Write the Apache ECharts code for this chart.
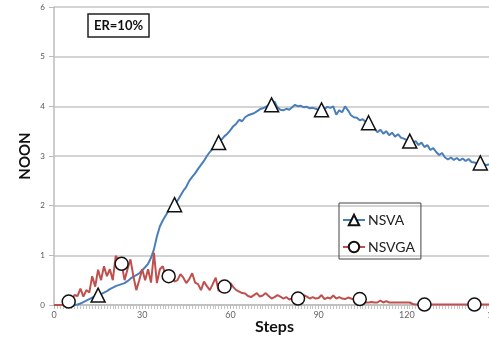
<!DOCTYPE html>
<html>
<head>
<meta charset="utf-8">
<script src="https://cdn.jsdelivr.net/npm/echarts@6/dist/echarts.min.js"></script>
<style>
  html, body { margin: 0; padding: 0; background: #fff; }
  #main { width: 489px; height: 339px; }
</style>
</head>
<body>
<div id="main"></div>
<script>
// values per step 0..150
var nsva = [
  0, 0, 0, 0, 0, 0, 0, 0, 0.01, 0.03,
  0.06, 0.09, 0.12, 0.15, 0.17, 0.2, 0.22, 0.25, 0.28, 0.32,
  0.35, 0.38, 0.4, 0.42, 0.44, 0.48, 0.53, 0.57, 0.6, 0.64,
  0.7, 0.76, 0.83, 0.95, 1.12, 1.38, 1.58, 1.7, 1.8, 1.9,
  1.96, 2.02, 2.1, 2.2, 2.3, 2.38, 2.5, 2.58, 2.65, 2.74,
  2.82, 2.9, 3.0, 3.08, 3.15, 3.2, 3.27, 3.33, 3.4, 3.45,
  3.52, 3.6, 3.65, 3.73, 3.7, 3.78, 3.82, 3.84, 3.86, 3.9,
  3.94, 3.96, 3.99, 4.02, 4.03, 4.1, 3.98, 3.93, 3.92, 3.95,
  3.93, 3.98, 4.03, 4.0, 4.01, 3.98, 3.99, 3.96, 3.97, 3.95,
  3.93, 3.93, 3.95, 3.99, 3.97, 4.0, 3.83, 3.92, 3.88, 4.0,
  3.92, 3.82, 3.78, 3.77, 3.72, 3.74, 3.69, 3.67, 3.6, 3.55,
  3.48, 3.53, 3.45, 3.5, 3.42, 3.47, 3.39, 3.44, 3.37, 3.35,
  3.32, 3.3, 3.27, 3.3, 3.22, 3.27, 3.18, 3.22, 3.12, 3.16,
  3.08, 3.02, 3.06, 2.97, 2.93, 2.97, 2.92, 2.96, 2.91, 2.95,
  2.9, 2.94, 2.88, 2.87, 2.85, 2.86, 2.84, 2.82, 2.83, 2.81,
  2.8
];
var nsvga = [
  0, 0, 0, 0, 0, 0.07, 0.12, 0.2, 0.18, 0.33,
  0.17, 0.3, 0.25, 0.58, 0.37, 0.71, 0.5, 0.78, 0.58, 0.72,
  0.5, 0.99, 0.9, 0.83, 0.5, 0.72, 0.92, 0.58, 0.3, 0.5,
  0.72, 0.5, 0.72, 0.45, 1.05, 0.44, 0.72, 0.78, 0.6, 0.58,
  0.62, 0.47, 0.5, 0.62, 0.55, 0.44, 0.52, 0.64, 0.45, 0.42,
  0.3, 0.47, 0.38, 0.3, 0.42, 0.55, 0.28, 0.33, 0.37, 0.35,
  0.44, 0.36, 0.3, 0.27, 0.24, 0.23, 0.18, 0.16, 0.2, 0.24,
  0.17, 0.19, 0.24, 0.18, 0.13, 0.16, 0.2, 0.17, 0.13, 0.16,
  0.11, 0.13, 0.12, 0.13, 0.15, 0.2, 0.17, 0.13, 0.16, 0.13,
  0.14, 0.2, 0.12, 0.15, 0.13, 0.19, 0.13, 0.16, 0.13, 0.12,
  0.15, 0.13, 0.11, 0.12, 0.12, 0.08, 0.05, 0.05, 0.06, 0.05,
  0.05, 0.09, 0.05, 0.08, 0.05, 0.05, 0.05, 0.05, 0.05, 0.05,
  0.05, 0.05, 0.02, 0.01, 0.01, 0.01, 0.01, 0.01, 0.01, 0.01,
  0.01, 0.01, 0.01, 0.01, 0.01, 0.01, 0.01, 0.01, 0.01, 0.01,
  0.01, 0.01, 0.01, 0.01, 0.01, 0.01, 0.01, 0.01, 0.01, 0.01,
  0.01
];
// steps that carry a marker
var nsvaMarks = [15, 41, 56, 74, 91, 107, 121, 145];
var nsvgaMarks = [5, 23, 39, 58, 83, 104, 126, 143];
var yTicks = [0, 1, 2, 3, 4, 5, 6];
var xTicks = [0, 30, 60, 90, 120, 150];

function build(values, marks, sym) {
  return values.map(function (v, i) {
    return { value: [i, v], symbol: marks.indexOf(i) >= 0 ? sym : 'none' };
  });
}

var font = 'Lato, "Open Sans", sans-serif';
var myChart = echarts.init(document.getElementById('main'));
var option = {
  animation: false,
  textStyle: { fontFamily: font },
  title: {
    text: 'ER=10%',
    left: 88, top: 14,
    padding: [5, 6],
    borderColor: '#222', borderWidth: 1.5,
    textStyle: { fontSize: 13, fontWeight: 'bold', color: '#111', fontFamily: font }
  },
  legend: {
    orient: 'vertical',
    left: 339, top: 203,
    width: 82,
    padding: [10, 6, 5, 3],
    itemGap: 13,
    itemWidth: 22, itemHeight: 13,
    borderColor: '#444', borderWidth: 1,
    textStyle: { fontSize: 14, color: '#222', padding: [0, 0, 0, -2], fontFamily: font },
    data: ['NSVA', 'NSVGA']
  },
  grid: { left: 54, right: -6, top: 7, bottom: 34, outerBoundsMode: 'none' },
  xAxis: {
    type: 'value',
    min: xTicks[0], max: xTicks[xTicks.length - 1], interval: 30,
    name: 'Steps',
    nameLocation: 'middle',
    nameGap: 14,
    nameMoveOverlap: false,
    nameTextStyle: { fontSize: 16, fontWeight: 'bold', color: '#111' },
    axisLine: { lineStyle: { color: '#bbb', width: 1.5 } },
    axisTick: { show: true, length: 4, lineStyle: { color: '#bbb' } },
    minorTick: { show: true, splitNumber: 30, length: 4, lineStyle: { color: '#c4c4c4' } },
    axisLabel: { fontSize: 9, color: '#666', margin: 6 },
    splitLine: { show: false }
  },
  yAxis: {
    type: 'value',
    min: yTicks[0], max: yTicks[yTicks.length - 1], interval: 1,
    name: 'NOON',
    nameLocation: 'middle',
    nameRotate: 90,
    nameGap: 21,
    nameMoveOverlap: false,
    nameTextStyle: { fontSize: 15, fontWeight: 'bold', color: '#111' },
    axisLine: { show: true, lineStyle: { color: '#bbb', width: 1.5 } },
    axisTick: { show: true, length: 5, lineStyle: { color: '#bbb' } },
    axisLabel: { fontSize: 8, color: '#555', margin: 9 },
    splitLine: { lineStyle: { color: '#c6c6c6', width: 1.5 } }
  },
  series: [
    {
      name: 'NSVA',
      type: 'line',
      data: build(nsva, nsvaMarks, 'triangle'),
      symbol: 'triangle',
      symbolSize: 14,
      showAllSymbol: true,
      lineStyle: { color: '#4a7ebb', width: 2 },
      itemStyle: { color: '#fff', borderColor: '#111', borderWidth: 1.5 },
      z: 2
    },
    {
      name: 'NSVGA',
      type: 'line',
      data: build(nsvga, nsvgaMarks, 'circle'),
      symbol: 'circle',
      symbolSize: 13,
      showAllSymbol: true,
      lineStyle: { color: '#c0504d', width: 2 },
      itemStyle: { color: '#fff', borderColor: '#111', borderWidth: 1.5 },
      z: 3
    }
  ]
};
myChart.setOption(option);
</script>
</body>
</html>
